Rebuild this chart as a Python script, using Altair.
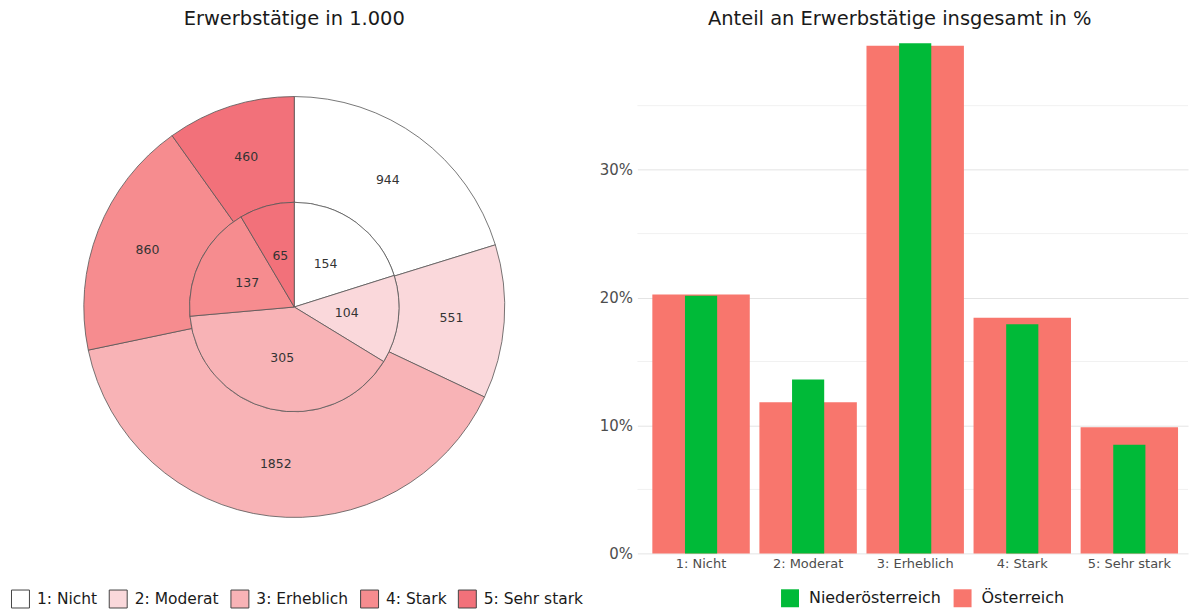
import altair as alt
import pandas as pd

# ---- data -----------------------------------------------------------------
categories = ["1: Nicht", "2: Moderat", "3: Erheblich", "4: Stark", "5: Sehr stark"]
noe_values = [154, 104, 305, 137, 65]          # Niederösterreich, in 1.000
at_values = [944, 551, 1852, 860, 460]         # Österreich, in 1.000
pie_colors = ["#FFFFFF", "#FAD8DB", "#F8B3B6", "#F68C8F", "#F2717A"]
region_names = ["Niederösterreich", "Österreich"]
region_colors = ["#00BA38", "#F8766D"]
major_ticks = [0, 10, 20, 30]
minor_ticks = [5, 15, 25, 35]

FONT = "DejaVu Sans"

df_at = pd.DataFrame({"cat": categories, "idx": list(range(len(categories))), "value": at_values})
df_at["share"] = df_at["value"] / df_at["value"].sum() * 100
df_at["region"] = "Österreich"
df_noe = pd.DataFrame({"cat": categories, "idx": list(range(len(categories))), "value": noe_values})
df_noe["share"] = df_noe["value"] / df_noe["value"].sum() * 100
df_noe["region"] = "Niederösterreich"
df_minor = pd.DataFrame({"share": minor_ticks})

# ---- left: nested pie -----------------------------------------------------
pie_color = alt.Color(
    "cat:N",
    scale=alt.Scale(domain=categories, range=pie_colors),
    legend=alt.Legend(
        title=None, orient="none", direction="horizontal", legendX=3, legendY=549,
        symbolType="square", symbolSize=324, symbolStrokeColor="#444444",
        symbolStrokeWidth=1, labelFontSize=15.5, labelFont=FONT, labelColor="#1a1a1a",
        columnPadding=9, labelOffset=7,
    ),
)
theta = alt.Theta("value:Q", stack="normalize")
order = alt.Order("idx:Q", sort="ascending")

outer_arc = alt.Chart(df_at).mark_arc(
    innerRadius=105, outerRadius=211, stroke="#555555", strokeWidth=0.8
).encode(theta=theta, order=order, color=pie_color)
outer_txt = alt.Chart(df_at).mark_text(
    radius=158, fontSize=12.5, font=FONT, color="#333333"
).encode(theta=theta, order=order, detail="cat:N", text="value:Q")
inner_arc = alt.Chart(df_noe).mark_arc(
    outerRadius=105, stroke="#555555", strokeWidth=0.8
).encode(theta=theta, order=order, color=pie_color)
inner_txt = alt.Chart(df_noe).mark_text(
    radius=53, fontSize=12.5, font=FONT, color="#333333"
).encode(theta=theta, order=order, detail="cat:N", text="value:Q")

left = alt.layer(outer_arc, outer_txt, inner_arc, inner_txt).properties(
    width=574, height=532,
    title=alt.TitleParams("Erwerbstätige in 1.000", fontSize=19.5, font=FONT,
                          fontWeight="normal", color="#1a1a1a", anchor="middle", offset=12),
)

# ---- right: overlapping bars ---------------------------------------------
x_enc = alt.X(
    "cat:N", sort=categories,
    scale=alt.Scale(domain=categories, paddingInner=0.09, paddingOuter=0.1163, align=0.6),
    axis=alt.Axis(title=None, labelAngle=0, ticks=False, domain=False, grid=False,
                  labelFontSize=13, labelFont=FONT, labelColor="#4d4d4d", labelPadding=4),
)
y_scale = alt.Scale(domain=[0, 40], nice=False, zero=True)
y_axis = alt.Axis(title=None, values=major_ticks, labelExpr="datum.value + '%'",
                  ticks=False, domain=False, grid=True, gridColor="#e4e4e4", gridWidth=1,
                  labelFontSize=15, labelFont=FONT, labelColor="#4d4d4d", labelPadding=5)
y_enc = alt.Y("share:Q", scale=y_scale, axis=y_axis)
bar_color = alt.Color(
    "region:N",
    scale=alt.Scale(domain=region_names, range=region_colors),
    legend=alt.Legend(
        title=None, orient="none", direction="horizontal", legendX=144, legendY=549,
        symbolType="square", symbolSize=324, symbolStrokeWidth=0,
        labelFontSize=16, labelFont=FONT, labelColor="#1a1a1a",
        columnPadding=12, labelOffset=10,
    ),
)

minor = alt.Chart(df_minor).mark_rule(color="#f1f1f1", strokeWidth=1).encode(y=y_enc)
bars_at = alt.Chart(df_at).mark_bar().encode(x=x_enc, y=y_enc, color=bar_color)
bars_noe = alt.Chart(df_noe).mark_bar(width=alt.RelativeBandSize(0.33)).encode(
    x=x_enc, y=y_enc, color=bar_color
)

right = alt.layer(minor, bars_at, bars_noe).properties(
    width=552, height=513,
    title=alt.TitleParams("Anteil an Erwerbstätige insgesamt in %", fontSize=19.5, font=FONT,
                          fontWeight="normal", color="#1a1a1a", anchor="middle", offset=12,
                          dx=-13),
)

chart = (
    alt.hconcat(left, right, spacing=15)
    .resolve_scale(color="independent")
    .resolve_legend(color="independent")
    .properties(padding=0)
    .configure(font=FONT)
    .configure_view(strokeWidth=0)
)

chart.save("out.html", embed_options={"renderer": "svg", "actions": False})
